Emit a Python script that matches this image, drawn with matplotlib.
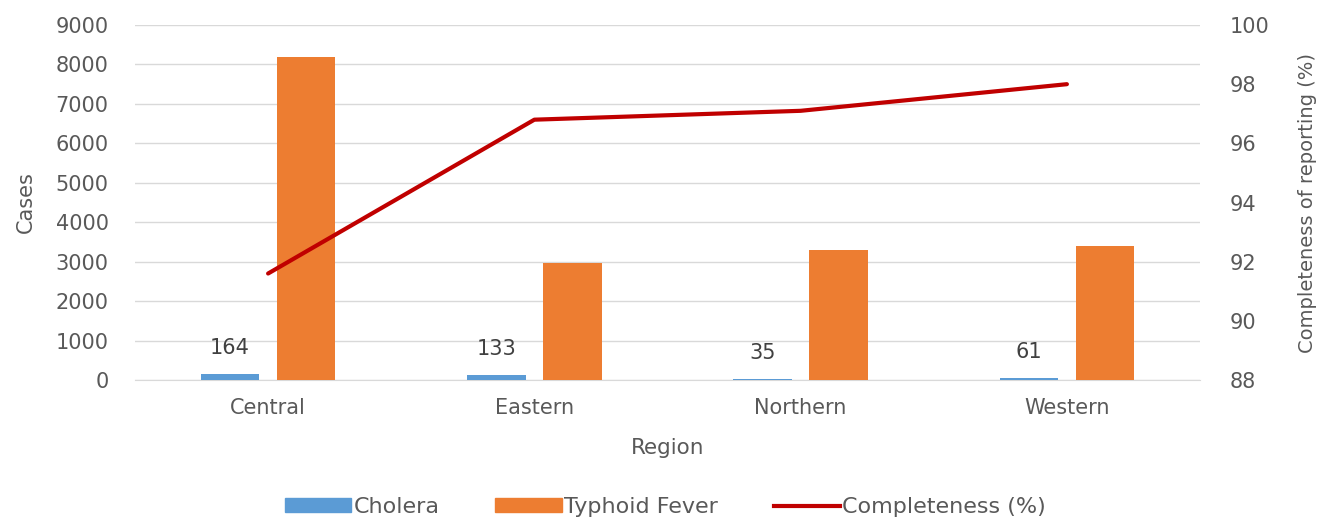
import numpy as np
import matplotlib.pyplot as plt
from matplotlib.lines import Line2D
from matplotlib.patches import Patch

regions = ["Central", "Eastern", "Northern", "Western"]
cholera = [164, 133, 35, 61]
typhoid = [8180, 2970, 3300, 3400]
completeness = [91.6, 96.8, 97.1, 98.0]

blue = "#5B9BD5"
orange = "#ED7D31"
red = "#C00000"
grey = "#595959"

plt.rcParams["font.family"] = ["DejaVu Sans"]
fs = 15

fig = plt.figure(figsize=(13.31, 5.19), dpi=100)
ax = fig.add_axes((0.1014, 0.2678, 0.8002, 0.684))

x = np.arange(len(regions))
w = 0.22
off = 0.143
ax.bar(x - off, cholera, width=w, color=blue, zorder=3)
ax.bar(x + off, typhoid, width=w, color=orange, zorder=3)
for xi, v in zip(x, cholera):
    ax.text(xi - off, v + 400, str(v), ha="center", va="bottom",
            fontsize=fs, color="#404040")

ax.set_xlim(-0.5, len(regions) - 0.5)
ax.set_ylim(0, 9000)
ax.set_yticks(range(0, 9001, 1000))
ax.set_xticks(x)
ax.set_xticklabels(regions)
ax.grid(axis="y", color="#D9D9D9", lw=1, zorder=0)
ax.tick_params(axis="both", length=0, labelsize=fs, colors=grey)
ax.tick_params(axis="x", pad=13)
ax.tick_params(axis="y", pad=19)
for s in ["top", "right", "left"]:
    ax.spines[s].set_visible(False)
ax.spines["bottom"].set_color("#D9D9D9")
ax.set_ylabel("Cases", fontsize=fs, color=grey, labelpad=14)
ax.set_xlabel("Region", fontsize=fs + 0.5, color=grey, labelpad=14)

ax2 = ax.twinx()
ax2.plot(x, completeness, color=red, lw=3, solid_capstyle="round", zorder=4)
ax2.set_ylim(88, 100)
ax2.set_yticks(range(88, 101, 2))
ax2.tick_params(axis="y", length=0, labelsize=fs, colors=grey, pad=21)
for s in ax2.spines.values():
    s.set_visible(False)
ax2.set_ylabel("Completeness of reporting (%)", fontsize=14, color=grey, labelpad=21)

handles = [Patch(color=blue, label="Cholera"),
           Patch(color=orange, label="Typhoid Fever"),
           Line2D([0], [0], color=red, lw=3, label="Completeness (%)")]
leg = fig.legend(handles=handles, loc="center", bbox_to_anchor=(0.5, 0.023), ncol=3,
                 frameon=False, fontsize=16, handlelength=3.0, handleheight=0.6,
                 handletextpad=0.1, columnspacing=2.5)
for t in leg.get_texts():
    t.set_color(grey)

fig.savefig("out.png", dpi=100)
